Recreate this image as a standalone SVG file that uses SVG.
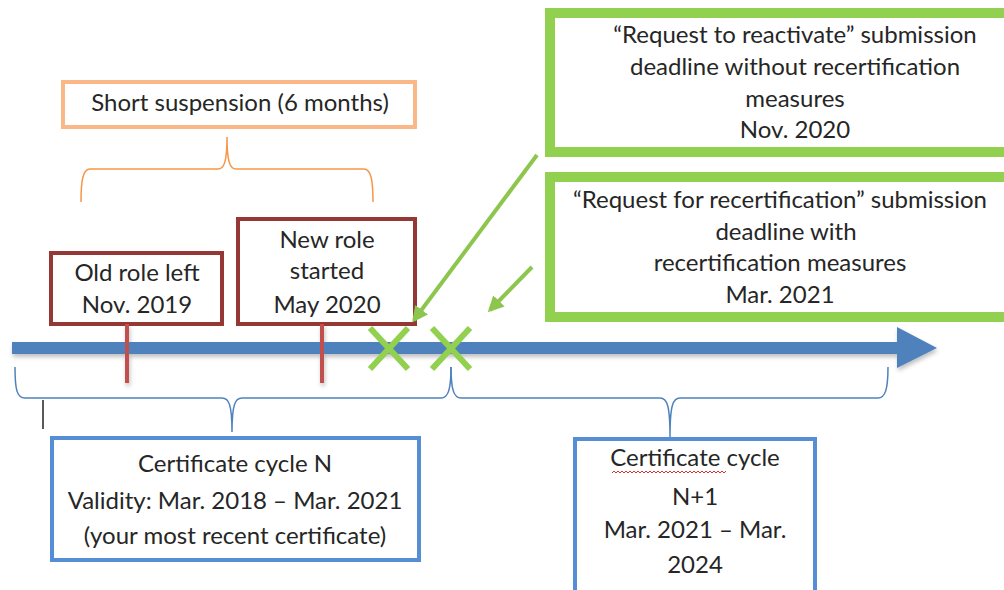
<svg xmlns="http://www.w3.org/2000/svg" width="1004" height="590" viewBox="0 0 1004 590">
  <style>
    text { font-family: "Lato", "Open Sans", "Liberation Sans", sans-serif; font-size: 24px; fill: #262626; text-anchor: middle; }
    .box { fill: #fff; }
    .orange { stroke: #FAB889; stroke-width: 4; }
    .red { stroke: #953735; stroke-width: 4; }
    .green { stroke: #92D050; stroke-width: 10; }
    .blue { stroke: #558ED5; stroke-width: 4; }
    .brace-o { fill: none; stroke: #F79646; stroke-width: 1.5; }
    .brace-b { fill: none; stroke: #4F81BD; stroke-width: 1.5; }
    .tick { stroke: #C0504D; stroke-width: 4; }
    .cross { stroke: #92D050; stroke-width: 6; }
    .pointer { stroke: #8DC64E; stroke-width: 4; fill: none; }
  </style>
  <defs>
    <marker id="head" viewBox="0 0 10 10" refX="8" refY="5" markerWidth="4" markerHeight="4" orient="auto">
      <path d="M0,0 L10,5 L0,10 z" fill="#8DC64E"/>
    </marker>
    <filter id="shadow" x="-5%" y="-50%" width="110%" height="200%">
      <feDropShadow dx="1" dy="3" stdDeviation="2" flood-color="#000" flood-opacity="0.25"/>
    </filter>
  </defs>

  <rect width="1004" height="590" fill="#fff"/>

  <!-- suspension label -->
  <g id="suspension">
    <rect class="box orange" x="63" y="82" width="352" height="45"/>
    <text x="240" y="111">Short suspension (6 months)</text>
  </g>

  <!-- role change markers -->
  <g id="old-role">
    <rect class="box red" x="51" y="253" width="171" height="71"/>
    <text x="137" y="281">Old role left</text>
    <text x="137" y="313">Nov. 2019</text>
  </g>
  <g id="new-role">
    <rect class="box red" x="238" y="219" width="177" height="105"/>
    <text x="327" y="248">New role</text>
    <text x="327" y="279">started</text>
    <text x="327" y="313">May 2020</text>
  </g>

  <!-- deadline boxes -->
  <g id="reactivate-deadline">
    <rect class="box green" x="550" y="13" width="470" height="139"/>
    <text x="795" y="43">“Request to reactivate” submission</text>
    <text x="795" y="75">deadline without recertification</text>
    <text x="795" y="107">measures</text>
    <text x="795" y="138">Nov. 2020</text>
  </g>
  <g id="recertification-deadline">
    <rect class="box green" x="550" y="177" width="470" height="140"/>
    <text x="780" y="208">“Request for recertification” submission</text>
    <text x="786" y="240">deadline with</text>
    <text x="780" y="271">recertification measures</text>
    <text x="780" y="303">Mar. 2021</text>
  </g>

  <!-- certificate cycles -->
  <g id="cycle-n">
    <rect class="box blue" x="52" y="438" width="367" height="122"/>
    <text x="235" y="472">Certificate cycle N</text>
    <text x="235" y="509">Validity: Mar. 2018 – Mar. 2021</text>
    <text x="235" y="544">(your most recent certificate)</text>
  </g>
  <g id="cycle-n1">
    <rect class="box blue" x="575" y="439" width="240" height="160"/>
    <text x="695" y="466">Certificate cycle</text>
    <path d="M612,473 l2,-2 l2,2 l2,-2 l2,2 l2,-2 l2,2 l2,-2 l2,2 l2,-2 l2,2 l2,-2 l2,2 l2,-2 l2,2 l2,-2 l2,2 l2,-2 l2,2 l2,-2 l2,2 l2,-2 l2,2 l2,-2 l2,2 l2,-2 l2,2 l2,-2 l2,2 l2,-2 l2,2 l2,-2 l2,2 l2,-2 l2,2 l2,-2 l2,2 l2,-2 l2,2 l2,-2 l2,2 l2,-2 l2,2 l2,-2 l2,2 l2,-2 l2,2 l2,-2 l2,2 l2,-2 l2,2 l2,-2 l2,2 l2,-2 l2,2 l2,-2 l2,2 l2,-2" fill="none" stroke="#E03030" stroke-width="1"/>
    <text x="695" y="505">N+1</text>
    <text x="695" y="538">Mar. 2021 – Mar.</text>
    <text x="695" y="573">2024</text>
  </g>

  <!-- timeline, braces and pointers -->
  <g id="connectors">
    <path class="brace-o" d="M81,202 C81,180 83,169 90,169 L218,169 C224,169 227,162 227,137 C227,162 230,169 236,169 L364,169 C371,169 373,180 373,202"/>

    <g filter="url(#shadow)">
      <path d="M12,342 L897,342 L897,327 L937,348 L897,368 L897,354 L12,354 Z" fill="#4F81BD"/>
      <line class="tick" x1="127" y1="324" x2="127" y2="383"/>
      <line class="tick" x1="322" y1="324" x2="322" y2="383"/>
    </g>

    <line class="cross" x1="370" y1="328" x2="408" y2="369"/>
    <line class="cross" x1="408" y1="328" x2="370" y2="369"/>
    <line class="cross" x1="432" y1="328" x2="470" y2="369"/>
    <line class="cross" x1="470" y1="328" x2="432" y2="369"/>

    <path class="brace-b" d="M15,367 C15,390 17,398 25,398 L222,398 C229,398 232,405 232,432 C232,405 235,398 242,398 L441,398 C448,398 451,390 451,367"/>
    <path class="brace-b" d="M451,367 C451,390 454,398 461,398 L660,398 C667,398 670,405 670,437 C670,405 673,398 680,398 L878,398 C885,398 888,390 888,367"/>

    <line class="pointer" x1="537" y1="155" x2="414" y2="320" marker-end="url(#head)"/>
    <line class="pointer" x1="532" y1="267" x2="490" y2="310" marker-end="url(#head)"/>

    <line x1="43" y1="400" x2="43" y2="429" stroke="#222" stroke-width="1.5"/>
  </g>
</svg>
